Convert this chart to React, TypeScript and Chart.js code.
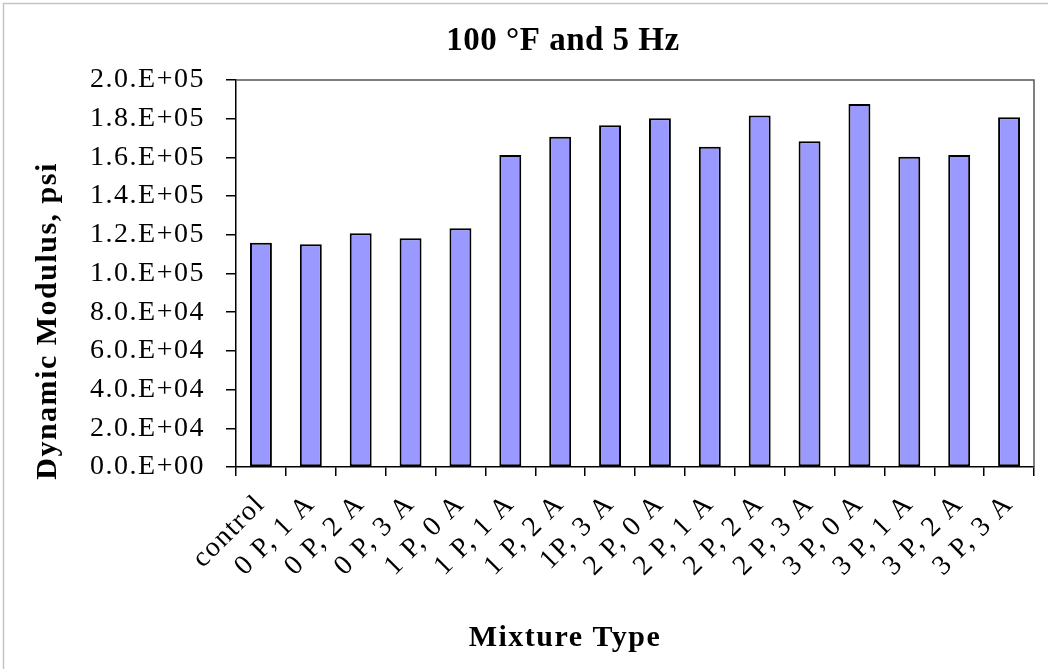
import React, { useEffect, useRef } from "react";
import { Chart, registerables } from "chart.js";

Chart.register(...registerables);

// Mixture types along the x axis
const categories = [
  "control",
  "0 P, 1 A",
  "0 P, 2 A",
  "0 P, 3 A",
  "1 P, 0 A",
  "1 P, 1 A",
  "1 P, 2 A",
  "1P, 3 A",
  "2 P, 0 A",
  "2 P, 1 A",
  "2 P, 2 A",
  "2 P, 3 A",
  "3 P, 0 A",
  "3 P, 1 A",
  "3 P, 2 A",
  "3 P, 3 A",
];

// Dynamic modulus (psi) at 100 °F and 5 Hz
const modulus = [
  115900, 115100, 120800, 118200, 123400, 161200, 170700, 176600,
  180200, 165500, 181700, 168300, 187600, 160400, 161200, 180700,
];

// Y axis labels in the spreadsheet's scientific style
const yTickLabels = [
  "0.0.E+00",
  "2.0.E+04",
  "4.0.E+04",
  "6.0.E+04",
  "8.0.E+04",
  "1.0.E+05",
  "1.2.E+05",
  "1.4.E+05",
  "1.6.E+05",
  "1.8.E+05",
  "2.0.E+05",
];

const TITLE = "100 °F and 5 Hz";
const X_TITLE = "Mixture Type";
const Y_TITLE = "Dynamic Modulus, psi";

const FONT = "'Liberation Serif', 'Times New Roman', serif";
const TICK_SPACING = "1.5px";

const framePlugin = {
  id: "frame",
  beforeLayout(chart: any) {
    chart.ctx.letterSpacing = TICK_SPACING;
  },
  beforeDraw(chart: any) {
    const ctx = chart.ctx as CanvasRenderingContext2D;
    const w = chart.width;
    const h = chart.height;
    (ctx as any).letterSpacing = TICK_SPACING;
    ctx.save();
    ctx.fillStyle = "#ffffff";
    ctx.fillRect(0, 0, w, h);
    ctx.strokeStyle = "#c4c4c4";
    ctx.lineWidth = 1.5;
    ctx.beginPath();
    ctx.moveTo(3.5, h);
    ctx.lineTo(3.5, 3.5);
    ctx.lineTo(w, 3.5);
    ctx.stroke();
    ctx.restore();
  },
  afterDraw(chart: any) {
    const ctx = chart.ctx as CanvasRenderingContext2D;
    const a = chart.chartArea;
    ctx.save();
    // top and right edges of the plot frame
    ctx.strokeStyle = "#555555";
    ctx.lineWidth = 1.5;
    ctx.beginPath();
    ctx.moveTo(a.left, a.top);
    ctx.lineTo(a.right, a.top);
    ctx.lineTo(a.right, a.bottom);
    ctx.stroke();

    ctx.fillStyle = "#000000";
    ctx.textAlign = "center";
    ctx.textBaseline = "middle";
    (ctx as any).letterSpacing = "0.5px";
    ctx.font = `bold 33px ${FONT}`;
    ctx.fillText(TITLE, 563, 41);
    (ctx as any).letterSpacing = "1.5px";
    ctx.font = `bold 30px ${FONT}`;
    ctx.fillText(X_TITLE, 565, 638);
    ctx.translate(48, 321);
    ctx.rotate(-Math.PI / 2);
    ctx.fillText(Y_TITLE, 0, 0);
    ctx.restore();
  },
};

export default function App() {
  const canvasRef = useRef<HTMLCanvasElement | null>(null);

  useEffect(() => {
    const canvas = canvasRef.current;
    if (!canvas) return;
    const chart = new Chart(canvas, {
      type: "bar",
      data: {
        labels: categories,
        datasets: [
          {
            data: modulus,
            backgroundColor: "#9999ff",
            borderColor: "#000000",
            borderWidth: 2,
            borderSkipped: false,
            barPercentage: 0.44,
            categoryPercentage: 1,
          },
        ],
      },
      options: {
        responsive: false,
        animation: false,
        layout: { padding: { top: 80, right: 14, bottom: 0, left: 0 } },
        plugins: {
          legend: { display: false },
          tooltip: { enabled: false },
          title: { display: false },
        },
        scales: {
          x: {
            offset: true,
            grid: {
              display: true,
              offset: true,
              drawOnChartArea: false,
              drawTicks: true,
              tickLength: 9,
              color: "#000000",
              lineWidth: 1.5,
            },
            border: { display: true, color: "#000000", width: 1.5 },
            ticks: {
              color: "#000000",
              font: { family: FONT, size: 28 },
              minRotation: 45,
              maxRotation: 45,
              autoSkip: false,
              padding: 12,
            },
            afterFit: (s: any) => {
              s.height = 202;
            },
          },
          y: {
            min: 0,
            max: 200000,
            grid: {
              display: true,
              drawOnChartArea: false,
              drawTicks: true,
              tickLength: 10,
              color: "#000000",
              lineWidth: 1.5,
            },
            border: { display: true, color: "#000000", width: 1.5 },
            ticks: {
              stepSize: 20000,
              color: "#000000",
              font: { family: FONT, size: 28 },
              padding: 21,
              callback: (v: any) => yTickLabels[Math.round(Number(v) / 20000)],
            },
            afterFit: (s: any) => {
              s.width = 236;
            },
          },
        },
      },
      plugins: [framePlugin],
    });
    return () => chart.destroy();
  }, []);

  return (
    <div
      style={{
        position: "absolute",
        left: 0,
        top: 0,
        width: 1048,
        height: 669,
        overflow: "hidden",
        background: "#ffffff",
      }}
    >
      <canvas
        ref={canvasRef}
        width={1048}
        height={669}
        style={{ display: "block", width: 1048, height: 669 }}
      />
    </div>
  );
}
